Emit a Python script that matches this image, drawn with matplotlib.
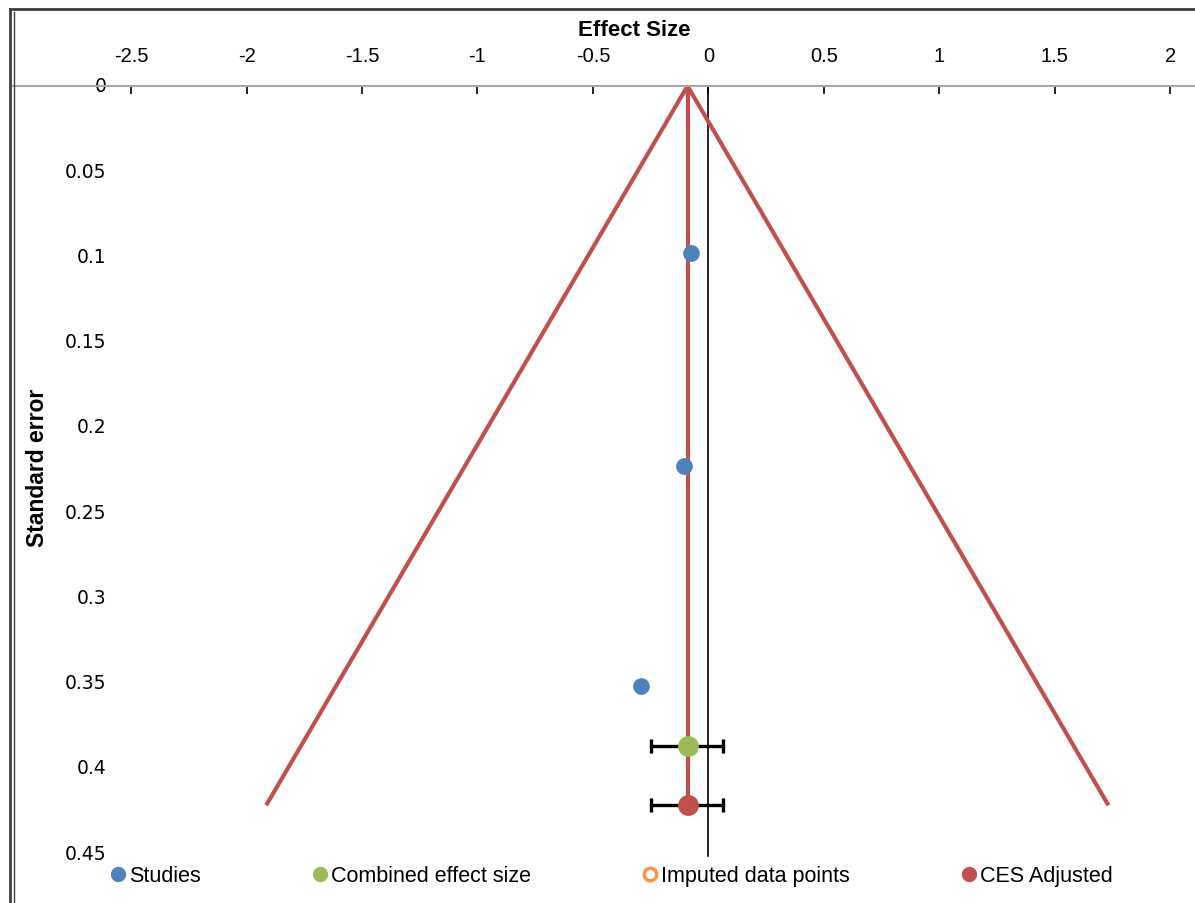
import matplotlib.pyplot as plt
from matplotlib.lines import Line2D

# funnel plot data (effect size vs standard error)
study_es = [-0.074, -0.104, -0.29]
study_se = [0.098, 0.223, 0.352]

ces = -0.09
ces_se = 0.387
ces_adj = -0.09
ces_adj_se = 0.422
ci_low = -0.247
ci_high = 0.065

funnel_left = [-1.915, -0.09]
funnel_right = [1.733, -0.09]
funnel_se = [0.422, 0.0]

imputed_es = []
imputed_se = []

xticks = [-2.5, -2, -1.5, -1, -0.5, 0, 0.5, 1, 1.5, 2]
xticklabels = ['-2.5', '-2', '-1.5', '-1', '-0.5', '0', '0.5', '1', '1.5', '2']
yticks = [0, 0.05, 0.1, 0.15, 0.2, 0.25, 0.3, 0.35, 0.4, 0.45]
yticklabels = ['0', '0.05', '0.1', '0.15', '0.2', '0.25', '0.3', '0.35', '0.4', '0.45']

blue = '#4F81BD'
green = '#9BBB59'
orange = '#F79646'
red = '#C0504D'
font = ['Liberation Sans', 'DejaVu Sans']

W, H = 1195, 904
fig = plt.figure(figsize=(W / 100, H / 100), dpi=100)
ax = fig.add_axes([12 / W, 1 - 854 / H, (W - 12) / W, (854 - 87) / H])

# funnel + adjusted line
ax.plot(funnel_left, funnel_se, color=red, lw=3, solid_capstyle='butt')
ax.plot(funnel_right, funnel_se, color=red, lw=3, solid_capstyle='butt')
ax.plot([ces_adj, ces_adj], [0, ces_adj_se], color=red, lw=3)

# zero line
ax.plot([0, 0], [0, 0.452], color='black', lw=1.2, clip_on=False, zorder=1)

# error bars
for x, y in [(ces, ces_se), (ces_adj, ces_adj_se)]:
    ax.errorbar(x, y, xerr=[[x - ci_low], [ci_high - x]], fmt='none',
                ecolor='black', elinewidth=2.4, capsize=5, capthick=2.4, zorder=3)

ax.plot(study_es, study_se, 'o', color=blue, ms=11, zorder=4)
ax.plot([ces], [ces_se], 'o', color=green, ms=14, zorder=4)
ax.plot(imputed_es, imputed_se, 'o', mfc='white', mec=orange, mew=2.5, ms=10)
ax.plot([ces_adj], [ces_adj_se], 'o', color=red, ms=14, zorder=4)

ax.set_xlim(-3.016, 2.108)
ax.set_ylim(0.45, 0)

for s in ['left', 'right', 'bottom']:
    ax.spines[s].set_visible(False)
ax.spines['top'].set_color('#A6A6A6')
ax.spines['top'].set_linewidth(1.5)

ax.xaxis.tick_top()
ax.xaxis.set_label_position('top')
ax.set_xticks(xticks)
ax.set_xticklabels(xticklabels, fontsize=14.5, family=font)
ax.tick_params(axis='x', direction='in', length=6, width=1.2, color='black', pad=15)
ax.set_xlabel('Effect Size', fontsize=16, fontweight='bold', family=font)
ax.xaxis.set_label_coords((634 - 12) / (W - 12), 1 + (87 - 30) / (854 - 87))
ax.xaxis.label.set_verticalalignment('center')

ax.set_yticks(yticks)
ax.set_yticklabels(yticklabels, fontsize=13.5, family='DejaVu Sans')
ax.tick_params(axis='y', length=0, pad=-68)
for lbl in ax.get_yticklabels():
    lbl.set_verticalalignment('center')
ax.set_ylabel('Standard error', fontsize=16.5, fontweight='bold', family=font)
ax.yaxis.set_label_coords((38 - 12) / (W - 12), 1 - (468 - 87) / (854 - 87))
ax.yaxis.label.set_horizontalalignment('center')
ax.yaxis.label.set_verticalalignment('center')

# legend
handles = [
    Line2D([], [], ls='none', marker='o', color=blue, ms=10),
    Line2D([], [], ls='none', marker='o', color=green, ms=10),
    Line2D([], [], ls='none', marker='o', mfc='white', mec=orange, mew=2.5, ms=9),
    Line2D([], [], ls='none', marker='o', color=red, ms=10),
]
labels = ['Studies', 'Combined effect size', 'Imputed data points', 'CES Adjusted']
fig.legend(handles, labels, loc='center', bbox_to_anchor=(612 / W, 1 - 877 / H), ncol=4,
           frameon=False, handlelength=0.6, handletextpad=0.2, columnspacing=5.25,
           prop={'family': font, 'size': 15.5})

# chart border
fig.add_artist(Line2D([10 / W, 10 / W], [0, 1 - 10 / H], color='#404040', lw=2))
fig.add_artist(Line2D([14 / W, 14 / W], [0, 1 - 13 / H], color='#404040', lw=1))
fig.add_artist(Line2D([10 / W, 1], [1 - 10 / H, 1 - 10 / H], color='#404040', lw=2))

fig.savefig('out.png', dpi=100, facecolor='white')
